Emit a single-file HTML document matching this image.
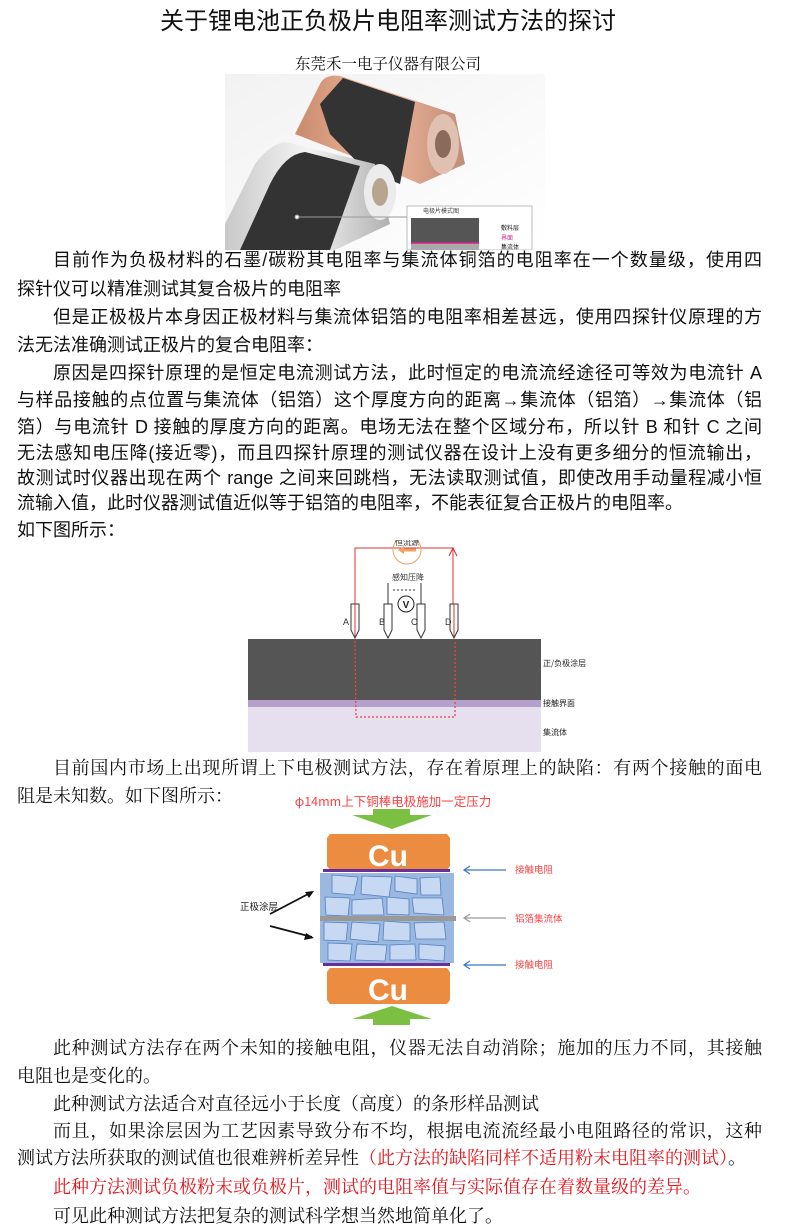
<!DOCTYPE html>
<html><head><meta charset="utf-8">
<style>
body{margin:0;background:#fff;}
#p{position:relative;width:800px;height:1232px;overflow:hidden;background:#fff;font-family:"Liberation Sans","Noto Sans CJK SC",sans-serif;color:#111;}
.l{position:absolute;left:17px;width:745px;font-size:18px;line-height:24px;white-space:nowrap;}
.j{text-align:justify;text-align-last:justify;}
.i{left:53px;width:709px;}
.s{font-family:"Liberation Serif","Noto Serif CJK SC",serif;}
.r{color:#e8141b;}
</style></head><body><div id="p">
<div style="position:absolute;left:0;width:776px;top:8px;text-align:center;font-size:24px;line-height:28px;font-family:'Liberation Sans','Noto Sans CJK SC',sans-serif;">关于锂电池正负极片电阻率测试方法的探讨</div>
<div style="position:absolute;left:0;width:776px;top:55px;text-align:center;font-size:15.5px;line-height:20px;font-family:'Liberation Serif','Noto Serif CJK SC',serif;">东莞禾一电子仪器有限公司</div>

<svg style="position:absolute;left:225px;top:74px" width="320" height="176" viewBox="0 0 320 176">
<defs>
<linearGradient id="cu" x1="0" x2="1"><stop offset="0" stop-color="#c98a6e"/><stop offset=".5" stop-color="#f0b89a"/><stop offset="1" stop-color="#c08c78"/></linearGradient>
<linearGradient id="al" x1="0" x2="1"><stop offset="0" stop-color="#c8c8c8"/><stop offset=".5" stop-color="#f4f4f4"/><stop offset="1" stop-color="#b0b0b0"/></linearGradient>
<linearGradient id="bg" x1="0" y1="0" x2="1" y2="1"><stop offset="0" stop-color="#f2f2f2"/><stop offset="1" stop-color="#fff"/></linearGradient>
</defs>
<rect width="320" height="176" fill="url(#bg)"/>
<path d="M95 10 Q100 0 115 2 L230 40 L240 90 L195 110 L160 95 L70 60 Z" fill="url(#cu)"/>
<path d="M118 4 L190 28 L175 110 L140 96 L105 60 L95 30 Z" fill="#333"/>
<ellipse cx="218" cy="70" rx="16" ry="30" fill="#e0c0b0"/><ellipse cx="218" cy="70" rx="8" ry="14" fill="#8a6a58"/>
<path d="M0 150 L30 90 Q45 70 60 68 L150 90 L165 150 L110 176 L0 176 Z" fill="url(#al)"/>
<path d="M15 176 L45 110 Q60 80 80 78 L135 92 L105 176 Z" fill="#333"/>
<ellipse cx="155" cy="118" rx="16" ry="28" fill="#ececec"/><ellipse cx="155" cy="118" rx="8" ry="14" fill="#b8a590"/>
<rect x="182" y="132" width="125" height="44" fill="#fff" stroke="#bbb"/>
<text x="198" y="139" font-size="6" fill="#444">电极片模式图</text>
<rect x="186" y="144" width="68" height="25" fill="#555"/>
<rect x="186" y="169" width="68" height="7" fill="#aaa"/>
<line x1="186" y1="169" x2="254" y2="169" stroke="#e0208a" stroke-width="1.5"/>
<text x="276" y="156" font-size="6" fill="#222">敷料层</text>
<text x="276" y="166" font-size="6" fill="#e0208a">界面</text>
<text x="276" y="175" font-size="6" fill="#222">集流体</text>
<line x1="72" y1="143" x2="182" y2="143" stroke="#999"/>
<circle cx="72" cy="143" r="2" fill="#fff" stroke="#999"/>
</svg>

<div class="l j i" style="top:248px">目前作为负极材料的石墨/碳粉其电阻率与集流体铜箔的电阻率在一个数量级，使用四</div>
<div class="l" style="top:277px">探针仪可以精准测试其复合极片的电阻率</div>
<div class="l j i" style="top:305px">但是正极极片本身因正极材料与集流体铝箔的电阻率相差甚远，使用四探针仪原理的方</div>
<div class="l" style="top:333px">法无法准确测试正极片的复合电阻率：</div>
<div class="l j i" style="top:361px">原因是四探针原理的是恒定电流测试方法，此时恒定的电流流经途径可等效为电流针 A</div>
<div class="l j" style="top:388px">与样品接触的点位置与集流体（铝箔）这个厚度方向的距离→集流体（铝箔）→集流体（铝</div>
<div class="l j" style="top:415px">箔）与电流针 D 接触的厚度方向的距离。电场无法在整个区域分布，所以针 B 和针 C 之间</div>
<div class="l j" style="top:441px">无法感知电压降(接近零)，而且四探针原理的测试仪器在设计上没有更多细分的恒流输出，</div>
<div class="l j" style="top:466px">故测试时仪器出现在两个 range 之间来回跳档，无法读取测试值，即使改用手动量程减小恒</div>
<div class="l" style="top:491px">流输入值，此时仪器测试值近似等于铝箔的电阻率，不能表征复合正极片的电阻率。</div>
<div class="l" style="top:518px">如下图所示：</div>

<svg style="position:absolute;left:240px;top:540px" width="360" height="215" viewBox="240 540 360 215">
<rect x="248" y="639" width="293" height="61" fill="#555"/>
<rect x="248" y="700" width="293" height="7" fill="#b3a0cc"/>
<rect x="248" y="707" width="293" height="45" fill="#e6e0ee"/>
<text x="543" y="666" font-size="8" fill="#222" font-family="Noto Sans CJK SC">正/负极涂层</text>
<text x="543" y="706" font-size="8" fill="#222" font-family="Noto Sans CJK SC">接触界面</text>
<text x="543" y="735" font-size="8" fill="#222" font-family="Noto Sans CJK SC">集流体</text>
<polyline points="355,637 355,548 453,548 453,636" fill="none" stroke="#e03030" stroke-width="1"/>
<polyline points="449,556 453,548 457,556" fill="none" stroke="#e03030"/>
<circle cx="407" cy="550" r="14" fill="none" stroke="#f0a060"/>
<path d="M400 550 L416 550" stroke="#f0a060" stroke-width="3"/>
<path d="M398 550 L404 546 L404 554Z" fill="#f0a060"/>
<text x="407" y="545" font-size="8" text-anchor="middle" fill="#333" font-family="Noto Sans CJK SC">恒流源</text>
<text x="408" y="580" font-size="8" text-anchor="middle" fill="#333" font-family="Noto Sans CJK SC">感知压降</text>
<line x1="388" y1="583" x2="388" y2="604" stroke="#333"/><line x1="421" y1="583" x2="421" y2="604" stroke="#333"/>
<line x1="393" y1="590" x2="417" y2="590" stroke="#333" stroke-dasharray="2,2"/>
<circle cx="406" cy="604" r="8" fill="#fff" stroke="#222"/>
<text x="406" y="608" font-size="10" font-weight="bold" text-anchor="middle" fill="#222">V</text>
<g fill="#fff" stroke="#333" stroke-width="1">
<path d="M351 604 h8 v26 l-4 8 l-4 -8z"/><path d="M384 604 h8 v26 l-4 8 l-4 -8z"/>
<path d="M417 604 h8 v26 l-4 8 l-4 -8z"/><path d="M450 604 h8 v26 l-4 8 l-4 -8z"/>
</g>
<line x1="355" y1="604" x2="355" y2="637" stroke="#e03030"/><line x1="454" y1="604" x2="454" y2="637" stroke="#e03030"/>
<g font-size="9" fill="#333"><text x="343" y="625">A</text><text x="379" y="625">B</text><text x="411" y="625">C</text><text x="445" y="625">D</text></g>
<polyline points="355,641 356,717 455,717 455,641" fill="none" stroke="#f04040" stroke-width="1.3" stroke-dasharray="2,2"/>
</svg>

<div class="l s j i" style="top:756px">目前国内市场上出现所谓上下电极测试方法，存在着原理上的缺陷：有两个接触的面电</div>
<div class="l s" style="top:784px">阻是未知数。如下图所示：</div>

<svg style="position:absolute;left:230px;top:790px" width="370" height="245" viewBox="230 790 370 245">
<text x="393" y="806" font-size="12.5" text-anchor="middle" fill="#ff4040" font-family="Noto Sans CJK SC">φ14mm上下铜棒电极施加一定压力</text>
<path d="M373 809 h37 v6 h22 l-40 14 l-40 -14 h21z" fill="#7cc043"/>
<path d="M327 838 l3 -4 h117 l3 4 v28 l-3 4 h-117 l-3 -4z" fill="#ec8c40"/>
<text x="388" y="866" font-size="30" font-weight="bold" text-anchor="middle" fill="#fff" font-family="Liberation Sans">Cu</text>
<rect x="323" y="869" width="127" height="3" fill="#6a2e9a"/>
<rect x="320" y="873" width="134" height="44" fill="#9ab8e0"/>
<rect x="320" y="920" width="134" height="43" fill="#9ab8e0"/>
<g fill="#c6d8f2" stroke="#5580c0" stroke-width="0.8">
<path d="M332 875 l26 2 l-4 18 l-22 -2z"/><path d="M362 876 l30 1 l-3 20 l-28 -3z"/><path d="M395 876 l22 3 l0 15 l-22 -3z"/>
<path d="M420 878 l20 -1 l1 18 l-20 0z"/><path d="M325 897 l25 1 l-2 18 l-22 -1z"/><path d="M352 900 l30 -2 l2 17 l-32 0z"/>
<path d="M387 897 l22 2 l0 16 l-22 -1z"/><path d="M412 898 l30 0 l2 17 l-30 -2z"/>
<path d="M324 922 l24 1 l-2 18 l-22 -1z"/><path d="M352 922 l28 2 l-2 18 l-28 -3z"/><path d="M384 921 l26 2 l0 18 l-27 -1z"/>
<path d="M414 923 l30 -1 l2 17 l-30 0z"/><path d="M328 943 l24 1 l-2 17 l-22 -1z"/><path d="M357 944 l30 1 l-2 16 l-30 -1z"/>
<path d="M390 945 l25 -1 l1 16 l-26 0z"/><path d="M419 944 l26 2 l-1 15 l-25 -2z"/>
</g>
<rect x="320" y="916" width="136" height="5" fill="#999"/>
<rect x="323" y="963" width="127" height="3" fill="#6a2e9a"/>
<path d="M327 972 l3 -4 h117 l3 4 v28 l-3 4 h-117 l-3 -4z" fill="#ec8c40"/>
<text x="388" y="1000" font-size="30" font-weight="bold" text-anchor="middle" fill="#fff" font-family="Liberation Sans">Cu</text>
<path d="M373 1025 h37 v-6 h22 l-40 -13 l-40 13 h21z" fill="#7cc043"/>
<g font-size="9.5" fill="#ff4040" font-family="Noto Sans CJK SC"><text x="515" y="873">接触电阻</text><text x="515" y="922">铝箔集流体</text><text x="515" y="968">接触电阻</text></g>
<g stroke="#3a78c0" stroke-width="1.2" fill="none"><line x1="464" y1="870" x2="506" y2="870"/><polyline points="470,866 464,870 470,874"/>
<line x1="464" y1="965" x2="506" y2="965"/><polyline points="470,961 464,965 470,969"/></g>
<g stroke="#999" stroke-width="1.2" fill="none"><line x1="464" y1="918" x2="506" y2="918"/><polyline points="470,914 464,918 470,922"/></g>
<text x="240" y="910" font-size="9.5" fill="#222" font-family="Noto Sans CJK SC">正极涂层</text>
<g stroke="#111" stroke-width="1.8"><line x1="270" y1="914" x2="312" y2="892"/><line x1="270" y1="926" x2="312" y2="937"/></g>
<path d="M314 891 l-9 1 l4 6z M314 938 l-8 -5 l-2 7z" fill="#111"/>
</svg>

<div class="l s j i" style="top:1036px">此种测试方法存在两个未知的接触电阻，仪器无法自动消除；施加的压力不同，其接触</div>
<div class="l s" style="top:1064px">电阻也是变化的。</div>
<div class="l s i" style="top:1092px">此种测试方法适合对直径远小于长度（高度）的条形样品测试</div>
<div class="l s j i" style="top:1119px">而且，如果涂层因为工艺因素导致分布不均，根据电流流经最小电阻路径的常识，这种</div>
<div class="l s" style="top:1146px">测试方法所获取的测试值也很难辨析差异性<span class="r">（此方法的缺陷同样不适用粉末电阻率的测试）</span>。</div>
<div class="l s i r" style="top:1175px">此种方法测试负极粉末或负极片，测试的电阻率值与实际值存在着数量级的差异。</div>
<div class="l s i" style="top:1204px">可见此种测试方法把复杂的测试科学想当然地简单化了。</div>
</div></body></html>
